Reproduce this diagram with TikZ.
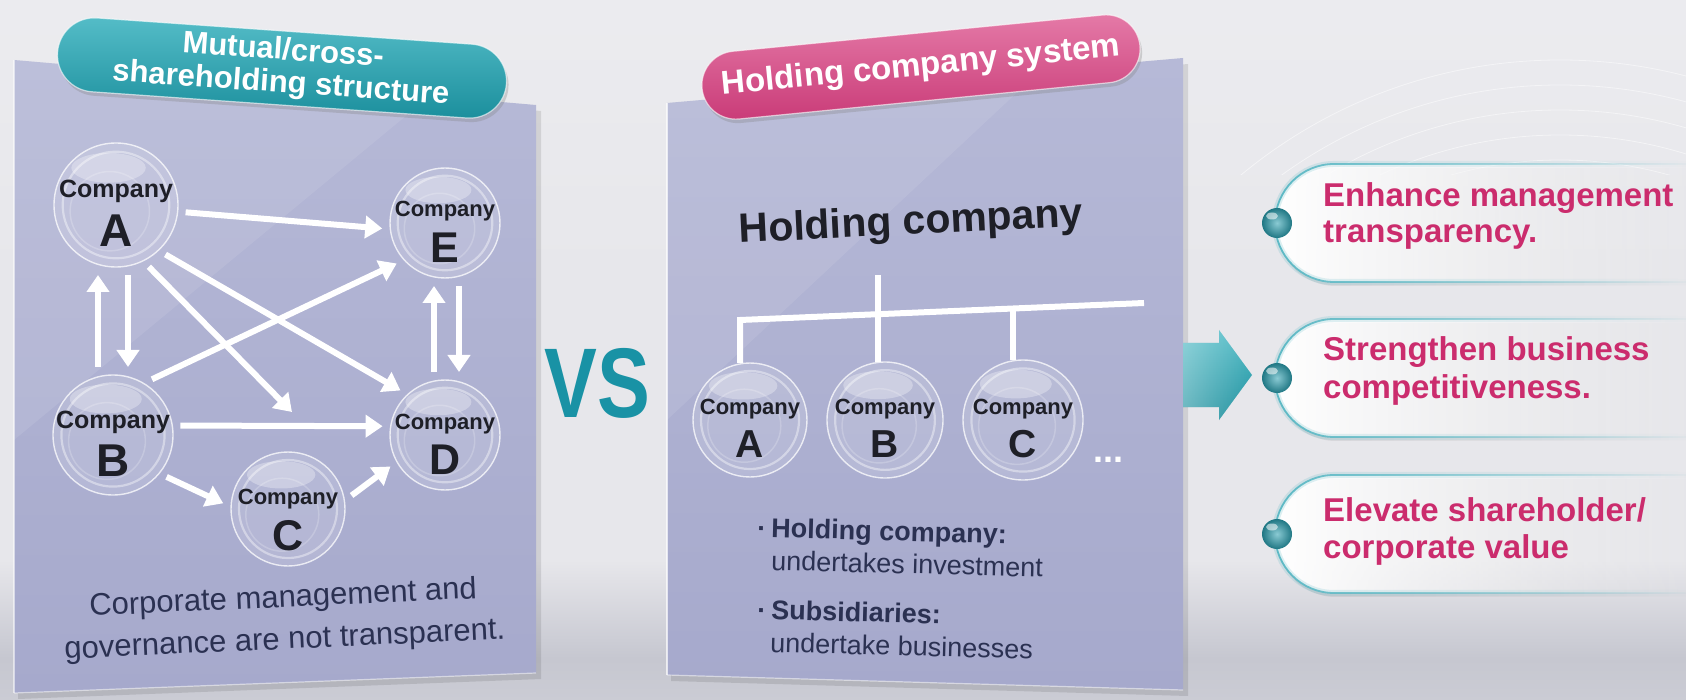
\documentclass[tikz,border=0pt]{standalone}
\usepackage{fontspec}
\usepackage{graphicx}
\setmainfont{Liberation Sans}
\usetikzlibrary{arrows.meta,shadows,fadings,calc}
\definecolor{ink}{HTML}{1E1F27}
\definecolor{navy}{HTML}{2B3152}
\definecolor{mag}{HTML}{CB2C6D}
\definecolor{vsteal}{HTML}{1992A5}
\definecolor{tealL}{HTML}{55BDC8}
\definecolor{tealD}{HTML}{1A8E9C}
\definecolor{pinkL}{HTML}{E57BA8}
\definecolor{pinkD}{HTML}{C93A77}
\definecolor{panT}{HTML}{B6B9D7}
\definecolor{panB}{HTML}{A6A9CC}
\definecolor{glow}{HTML}{5DB9C5}
\definecolor{ballc}{HTML}{2A9FB0}
\definecolor{bg1}{HTML}{F1F1F4}
\definecolor{bg2}{HTML}{E7E7EB}
\definecolor{bg3}{HTML}{C6C7D0}
\definecolor{bg4}{HTML}{D3D4DB}
\definecolor{bg5}{HTML}{DCDCE2}
\pgfdeclareverticalshading{bgshade}{100bp}{color(0bp)=(bg5); color(20bp)=(bg4); color(28bp)=(bg3); color(35bp)=(bg2); color(55bp)=(bg2); color(100bp)=(bg1)}
\tikzfading[name=fadeR, left color=transparent!0, middle color=transparent!10, right color=transparent!100]
\begin{document}
\begin{tikzpicture}[x=1pt,y=-1pt,
  warr/.style={draw=white, line width=6pt, -{Triangle[width=22pt,length=17pt]}},
  wline/.style={draw=white, line width=6pt},
  bub/.style={circle, inner sep=0pt, minimum size=#1pt, outer sep=8pt,
    fill=white, fill opacity=.13, draw=white, draw opacity=.75, line width=1.4pt,
    path picture={
      \draw[white, opacity=.40, line width=2.2pt] (path picture bounding box.center) circle[radius=#1*0.43pt];
      \fill[white, opacity=.30] ([xshift=-#1*0.06pt, yshift=#1*0.30pt]path picture bounding box.center) ellipse[x radius=#1*0.30pt, y radius=#1*0.12pt];
      \draw[white, opacity=.20, line width=1.5pt] ([xshift=-#1*0.05pt, yshift=-#1*0.05pt]path picture bounding box.center) circle[radius=#1*0.32pt];
    }},
  mbub/.style={bub=#1, outer sep=0pt},
  ctx/.style={font=\bfseries\fontsize{#1}{#1}\selectfont, text=ink, anchor=base, inner sep=0pt},
  pilltxt/.style={font=\bfseries\fontsize{33}{37}\selectfont, text=mag, anchor=base west, inner sep=0pt},
  bultxt/.style={font=\fontsize{27}{29}\selectfont, text=navy, anchor=base west, inner sep=0pt, rotate=-1.5},
  tealpill/.style={rectangle, rounded corners=37pt, minimum width=450pt, minimum height=74pt,
    top color=tealL, bottom color=tealD, draw=white, draw opacity=.6, line width=1.2pt,
    text=white, font=\bfseries\fontsize{31}{33}\selectfont, align=center, inner sep=0pt,
    drop shadow={opacity=.3, shadow xshift=2pt, shadow yshift=-4pt}},
  pinkpill/.style={rectangle, rounded corners=34pt, minimum width=440pt, minimum height=68pt,
    top color=pinkL, bottom color=pinkD, draw=white, draw opacity=.6, line width=1.2pt,
    text=white, font=\bfseries\fontsize{33}{33}\selectfont, inner sep=0pt,
    drop shadow={opacity=.3, shadow xshift=2pt, shadow yshift=-4pt}}
]
\useasboundingbox (0,0) rectangle (1686,700);
% background
\shade[shading=bgshade] (0,0) rectangle (1686,700);
\begin{scope}
  \clip (1183,0) rectangle (1686,175);
  \foreach \r in {300,325,...,500} \draw[white, opacity=.5, line width=.8pt] (1560,560) circle[radius=\r pt];
\end{scope}

% left panel
\fill[black,opacity=.10] (18,66) -- (541,111) -- (541,679) -- (18,699) -- cycle;
\shade[top color=panT, bottom color=panB] (14,60) -- (536,105) -- (536,673) -- (14,693) -- cycle;
\fill[white,opacity=.09] (14,60) -- (430,96) -- (14,440) -- cycle;
\draw[white,opacity=.55,line width=1.5pt] (14,693) -- (14,60);
\draw[white,opacity=.5,line width=1.2pt] (14,693) -- (536,673);

% middle panel
\fill[black,opacity=.10] (671,109) -- (1188,64) -- (1188,696) -- (671,681) -- cycle;
\shade[top color=panT, bottom color=panB] (667,103) -- (1183,58) -- (1183,690) -- (667,675) -- cycle;
\fill[white,opacity=.09] (667,103) -- (1040,71) -- (667,420) -- cycle;
\draw[white,opacity=.7,line width=1.5pt] (667,675) -- (667,103);
\draw[white,opacity=.5,line width=1.2pt] (667,675) -- (1183,690);

% title pills
\node[tealpill, rotate=-4] (t1) at (282,68) {Mutual/cross-\\shareholding structure};
\node[pinkpill, rotate=5.6] (t2) at (921,67) {Holding company system};

% left bubbles
\node[bub=124] (A) at (116,205) {};
\node[bub=110] (E) at (445,223) {};
\node[bub=120] (B) at (113,435) {};
\node[bub=110] (D) at (445,435) {};
\node[bub=114] (C) at (288,509) {};
\node[ctx=25] (At) at ([yshift=7pt]A.center) {Company};
\node[ctx=46] (Al) at ([yshift=-42pt]A.center) {A};
\node[ctx=25] (Bt) at ([yshift=7pt]B.center) {Company};
\node[ctx=46] (Bl) at ([yshift=-41pt]B.center) {B};
\node[ctx=22] (Et) at ([yshift=6pt]E.center) {Company};
\node[ctx=43] (El) at ([yshift=-40pt]E.center) {E};
\node[ctx=22] (Dt) at ([yshift=6pt]D.center) {Company};
\node[ctx=43] (Dl) at ([yshift=-39pt]D.center) {D};
\node[ctx=22] (Ct) at ([yshift=5pt]C.center) {Company};
\node[ctx=43] (Cl) at ([yshift=-41pt]C.center) {C};

% left arrows
\coordinate (acEnd) at (292,412);
\draw[warr] (A.-6) -- (E.185);
\draw[warr] ([xshift=-15pt]B.north) -- ([xshift=-15pt]B.north |- A.south);
\draw[warr] ([xshift=12pt]A.south) -- ([xshift=12pt]A.south |- B.north);
\draw[warr] ([xshift=-11pt]D.north) -- ([xshift=-11pt]D.north |- E.south);
\draw[warr] ([xshift=14pt]E.south) -- ([xshift=14pt]E.south |- D.north);
\draw[warr] (A.-45) -- (D.135);
\draw[warr] (A.-62) -- (acEnd);
\draw[warr] (B.55) -- (E.220);
\draw[warr] (B.8) -- (D.172);
\draw[warr] (B.-38) -- (C.175);
\draw[warr] (C.12) -- (D.210);

% bottom-left note
\node[font=\fontsize{31}{42}\selectfont, text=navy, align=center, rotate=2.6, inner sep=0pt] (note) at (284,620) {Corporate management and\\governance are not transparent.};

% VS
\node[text=vsteal, font=\bfseries\fontsize{99}{99}\selectfont, inner sep=0pt] (vs) at (597,383) {\scalebox{0.8}[1]{VS}};

% holding company structure
\node[font=\bfseries\fontsize{41}{41}\selectfont, text=ink, rotate=2.8, inner sep=0pt] (hc) at (911,224) {Holding company};
\node[mbub=114] (mA) at (750,420) {};
\node[mbub=116] (mB) at (885,420) {};
\node[mbub=120] (mC) at (1023,420) {};
\node[ctx=22] (mAt) at ([yshift=6pt]mA.center) {Company};
\node[ctx=39] (mAl) at ([yshift=-37pt]mA.center) {A};
\node[ctx=22] (mBt) at ([yshift=6pt]mB.center) {Company};
\node[ctx=39] (mBl) at ([yshift=-37pt]mB.center) {B};
\node[ctx=22] (mCt) at ([yshift=6pt]mC.center) {Company};
\node[ctx=39] (mCl) at ([yshift=-37pt]mC.center) {C};
\node[font=\bfseries\fontsize{36}{36}\selectfont, text=white, inner sep=0pt] (dots) at (1108,460) {...};
\coordinate (barL) at (740,320);
\coordinate (barR) at (1144,303);
\coordinate (stemT) at (878,275);
\coordinate (barC) at (1013,308.5);
\draw[wline] (barL |- mA.north) -- (barL) -- (barR);
\draw[wline] (stemT) -- (stemT |- mB.north);
\draw[wline] (barC) -- (barC |- mC.north);

\node[bultxt] (b1) at (757,537) {\textbf{·\hspace{5pt}Holding company:}};
\node[bultxt] (b2) at (771,570) {undertakes investment};
\node[bultxt] (b3) at (757,619) {\textbf{·\hspace{5pt}Subsidiaries:}};
\node[bultxt] (b4) at (770,652) {undertake businesses};

% big arrow
\shade[top color=tealL, bottom color=tealD] (1183,343) -- (1219,343) -- (1219,330) -- (1252,375) -- (1219,420) -- (1219,407) -- (1183,407) -- cycle;
\fill[white, opacity=.35, path fading=fadeR] (1183,343) -- (1219,343) -- (1219,330) -- (1252,375) -- (1219,420) -- (1219,407) -- (1183,407) -- cycle;

% right pills
\foreach \cy in {223,378,534}{
  \fill[black, opacity=.08, path fading=fadeR] (1700,\cy-55) -- (1336,\cy-55) arc[start angle=90,end angle=270,radius=59pt] -- (1700,\cy+63) -- cycle;
  \fill[white, path fading=fadeR] (1700,\cy-59) -- (1334,\cy-59) arc[start angle=90,end angle=270,radius=59pt] -- (1700,\cy+59) -- cycle;
  \draw[glow, line width=6pt, opacity=.22, path fading=fadeR] (1700,\cy-59) -- (1334,\cy-59) arc[start angle=90,end angle=270,radius=59pt] -- (1700,\cy+59);
  \draw[glow, line width=1.8pt, path fading=fadeR] (1700,\cy-59) -- (1334,\cy-59) arc[start angle=90,end angle=270,radius=59pt] -- (1700,\cy+59);
  \shade[inner color=ballc!55!white, outer color=ballc!75!black] (1277,\cy) circle[radius=15pt];
  \fill[white, opacity=.55] (1272,\cy-7) ellipse[x radius=6pt, y radius=3.5pt];
}
\node[pilltxt] (r1a) at (1323,207) {Enhance management};
\node[pilltxt] (r1b) at (1323,243) {transparency.};
\node[pilltxt] (r2a) at (1323,361) {Strengthen business};
\node[pilltxt] (r2b) at (1323,398) {competitiveness.};
\node[pilltxt] (r3a) at (1323,521) {Elevate shareholder/};
\node[pilltxt] (r3b) at (1323,558) {corporate value};
\end{tikzpicture}
\end{document}
